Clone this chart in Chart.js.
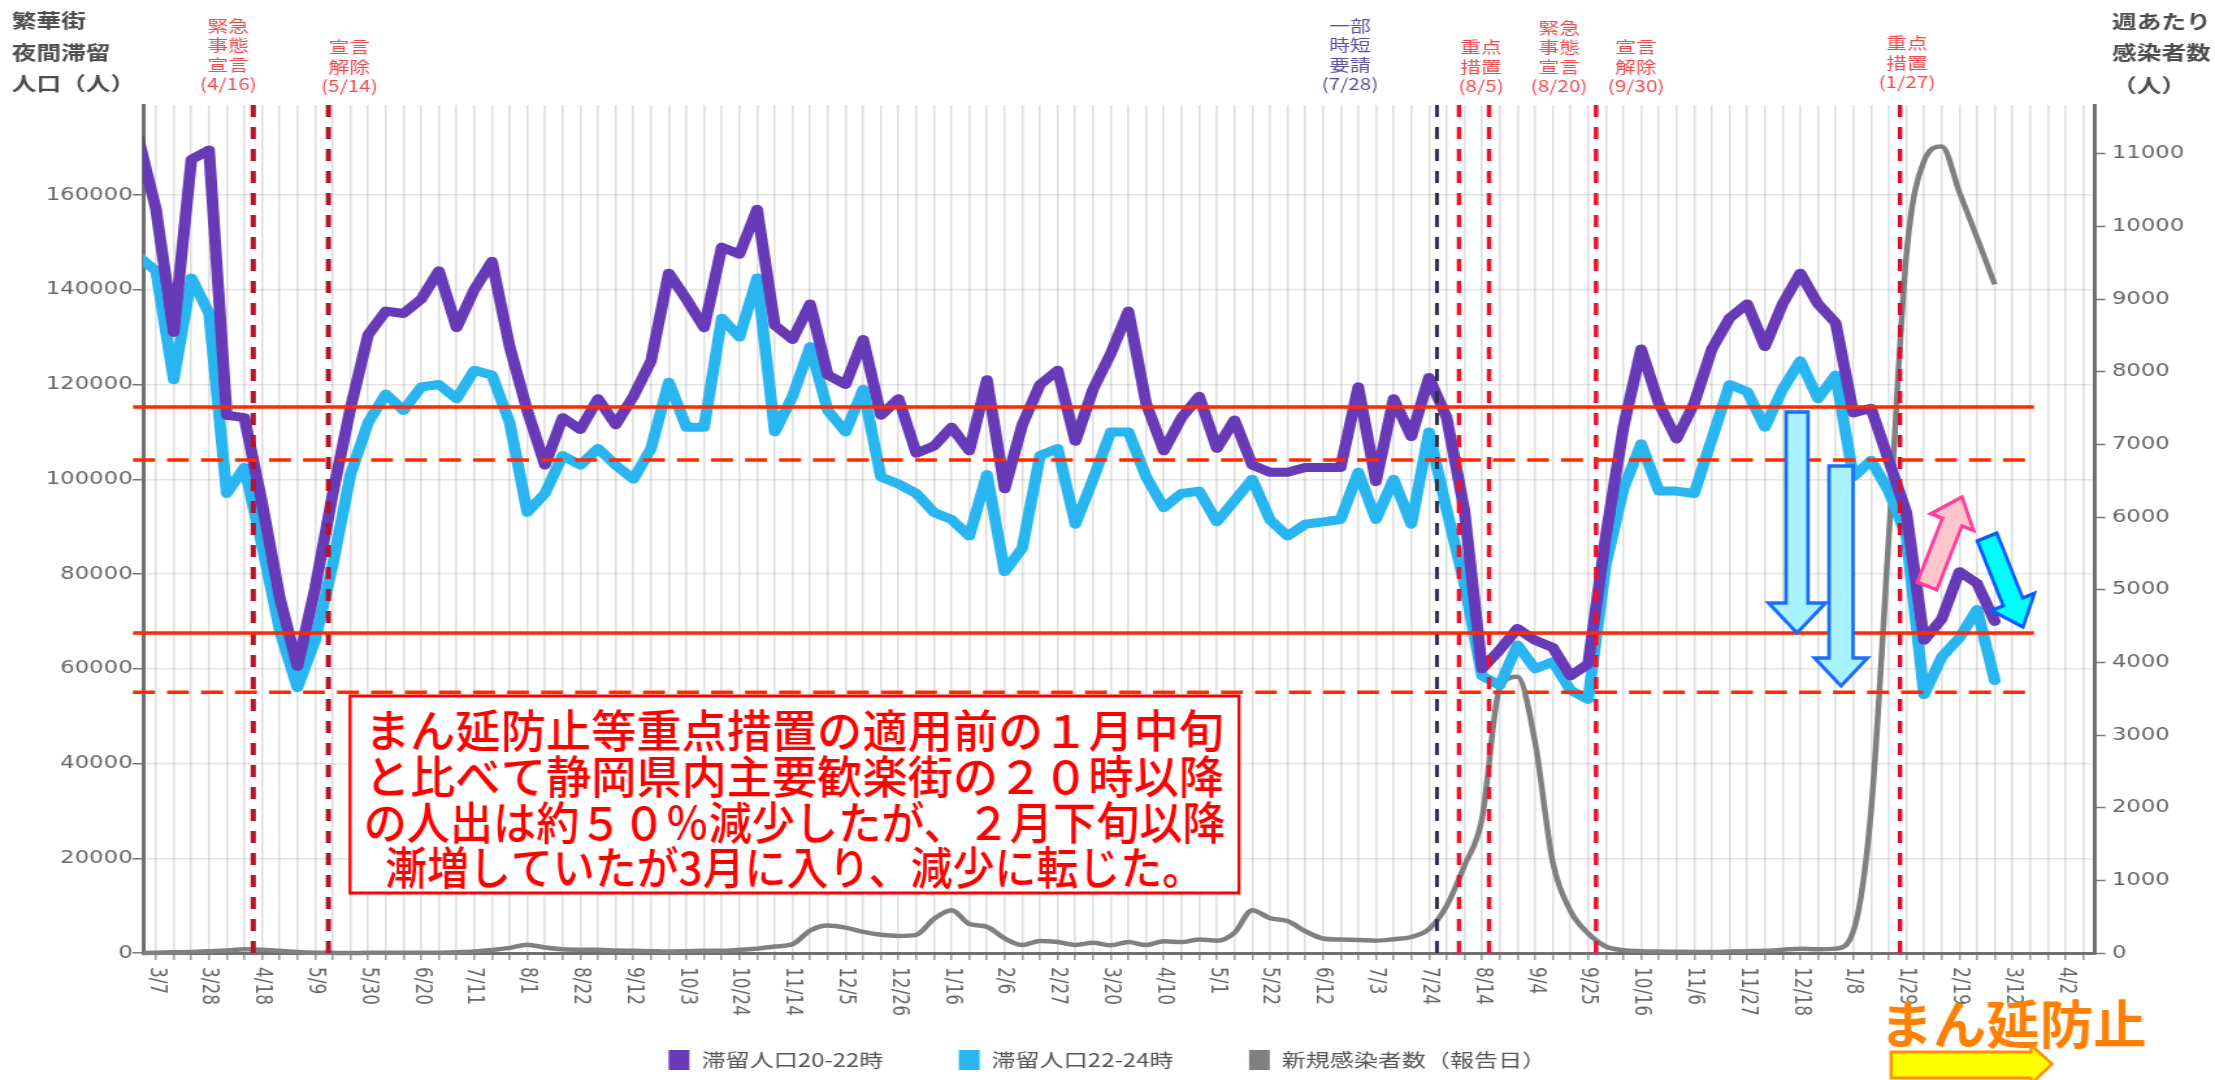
<!DOCTYPE html>
<html><head><meta charset="utf-8">
<script src="https://cdn.jsdelivr.net/npm/chart.js@4.4.1/dist/chart.umd.min.js"></script>
<style>html,body{margin:0;padding:0;background:#fff;overflow:hidden}
#c{display:block}</style>
</head><body>
<canvas id="c" width="1704" height="1080" style="width:2215px;height:1080px"></canvas>
<script>
// ---- data (weekly, first entry = week of 2/29/2020) ----
const weekLabels = ['2/29','3/7','3/14','3/21','3/28','4/4','4/11','4/18','4/25','5/2','5/9','5/16','5/23','5/30','6/6','6/13','6/20','6/27','7/4','7/11','7/18','7/25','8/1','8/8','8/15','8/22','8/29','9/5','9/12','9/19','9/26','10/3','10/10','10/17','10/24','10/31','11/7','11/14','11/21','11/28','12/5','12/12','12/19','12/26','1/2','1/9','1/16','1/23','1/30','2/6','2/13','2/20','2/27','3/6','3/13','3/20','3/27','4/3','4/10','4/17','4/24','5/1','5/8','5/15','5/22','5/29','6/5','6/12','6/19','6/26','7/3','7/10','7/17','7/24','7/31','8/7','8/14','8/21','8/28','9/4','9/11','9/18','9/25','10/2','10/9','10/16','10/23','10/30','11/6','11/13','11/20','11/27','12/4','12/11','12/18','12/25','1/1','1/8','1/15','1/22','1/29','2/5','2/12','2/19','2/26','3/5'];
const tickLabels = ['3/7','3/28','4/18','5/9','5/30','6/20','7/11','8/1','8/22','9/12','10/3','10/24','11/14','12/5','12/26','1/16','2/6','2/27','3/20','4/10','5/1','5/22','6/12','7/3','7/24','8/14','9/4','9/25','10/16','11/6','11/27','12/18','1/8','1/29','2/19','3/12','4/2'];
const leftTicks = [0,20000,40000,60000,80000,100000,120000,140000,160000];
const rightTicks = [0,1000,2000,3000,4000,5000,6000,7000,8000,9000,10000,11000];
const stay2022 = [172000,157000,131000,167500,169500,113500,113000,95000,75000,60500,77000,97000,115000,130500,135500,135000,138000,144000,132000,140000,146000,128000,114500,103000,113000,110500,117000,111500,117500,125000,143500,138000,132000,149000,147500,157000,132500,129500,137000,122000,120000,129500,113500,117000,105500,107000,111000,106000,121000,98000,111500,120000,123000,108000,119000,126500,135500,116000,106000,113000,117500,106500,112500,103000,101500,101500,102500,102500,102500,119500,99500,117000,109000,121500,113000,93500,60000,64000,68500,66000,64500,58500,61000,88000,111000,127500,116000,108500,116000,127500,134000,137000,128000,137000,143500,137000,133000,114000,115000,104000,93000,66000,70500,80500,78000,70000];
const stay2224 = [147000,144000,121000,142500,135000,97000,102500,86000,68000,56000,66000,82000,101000,112000,118000,114500,119500,120000,117000,123000,122000,112000,93000,97000,105000,103000,106500,103000,100000,106500,120500,111000,111000,134000,130000,142500,110000,117500,128000,114500,110000,119000,100500,99000,97000,93000,91500,88000,101000,80500,85500,105000,106500,90500,100000,110000,110000,100500,94000,97000,97500,91000,95500,100000,91500,88000,90500,91000,91500,101500,91500,100000,90500,110000,93500,78000,58500,56500,65000,60000,61500,55500,53500,82000,98000,107500,97500,97500,97000,108500,120000,118500,111000,119000,125000,117000,122000,100500,104000,97500,88000,54500,62500,66500,72500,57500];
const newCases = [0,5,10,15,25,35,50,45,30,15,5,2,0,2,3,2,5,5,10,20,40,70,115,75,50,45,45,35,30,25,20,25,30,30,45,60,90,120,310,380,350,290,250,235,250,470,590,400,360,200,110,165,150,110,140,105,150,110,160,150,185,170,280,590,480,440,300,200,185,180,170,190,220,330,650,1200,1850,3650,3800,2900,1250,580,270,90,40,25,20,18,15,15,20,25,30,45,60,50,60,300,1950,5700,9600,10900,11100,10470,9840,9200];
const seriesNames = ['滞留人口20-22時','滞留人口22-24時','新規感染者数（報告日）'];
const eventWeeks = [5.5, 9.75, 72.45, 73.7, 75.4, 81.45, 98.64];
const eventTexts = [['緊急','事態','宣言','(4/16)'],['宣言','解除','(5/14)'],['一部','時短','要請','(7/28)'],['重点','措置','(8/5)'],['緊急','事態','宣言','(8/20)'],['宣言','解除','(9/30)'],['重点','措置','(1/27)']];
const refLineValues = [115250, 104050, 67550, 55050];
const leftTitle = ['繁華街','夜間滞留','人口（人）'];
const rightTitle = ['週あたり','感染者数','（人）'];
const noteLines = ['まん延防止等重点措置の適用前の１月中旬','と比べて静岡県内主要歓楽街の２０時以降','の人出は約５０％減少したが、２月下旬以降','漸増していたが3月に入り、減少に転じた。'];
const bannerText = 'まん延防止';

// ---- layout / style ----
const W = 1704, SCREEN_W = 2215, S = SCREEN_W / W;
const JP = '"Noto Sans CJK JP","Noto Sans CJK SC",sans-serif';
const eventStyle = [
  {color:'#b5122b', width:4, text:'#ef4a50', dx:-25, last:84},
  {color:'#b5122b', width:4, text:'#ef4a50', dx:21, last:86},
  {color:'#30304a', width:3, text:'#5d50a0', dx:-87, last:84},
  {color:'#e8142e', width:3.5, text:'#ef4a50', dx:22, last:86},
  {color:'#e8142e', width:3.5, text:'#ef4a50', dx:70, last:86},
  {color:'#e8142e', width:3.5, text:'#ef4a50', dx:40, last:86},
  {color:'#d41030', width:3.5, text:'#ef4a50', dx:7, last:82}
];
const refStyle = [{dash:[]},{dash:[22,12]},{dash:[]},{dash:[22,12]}];

function blockArrow(ctx, x0, y0, x1, y1, sw, hw, hl, fill, stroke, lw) {
  const dx = x1 - x0, dy = y1 - y0, L = Math.hypot(dx, dy);
  const ux = dx / L, uy = dy / L, nx = -uy, ny = ux;
  const bx = x1 - ux * hl, by = y1 - uy * hl;
  const p = [[x0 + nx*sw/2, y0 + ny*sw/2],[bx + nx*sw/2, by + ny*sw/2],[bx + nx*hw/2, by + ny*hw/2],[x1, y1],
             [bx - nx*hw/2, by - ny*hw/2],[bx - nx*sw/2, by - ny*sw/2],[x0 - nx*sw/2, y0 - ny*sw/2]];
  ctx.beginPath();
  p.forEach((q, i) => i ? ctx.lineTo(q[0], q[1]) : ctx.moveTo(q[0], q[1]));
  ctx.closePath();
  ctx.fillStyle = fill; ctx.fill();
  ctx.lineWidth = lw; ctx.strokeStyle = stroke; ctx.lineJoin = 'miter'; ctx.stroke();
}

function fitText(ctx, text, cx, cy, target) {
  const w = ctx.measureText(text).width;
  const k = target / w;
  ctx.save(); ctx.translate(cx, cy); ctx.scale(k, 1); ctx.fillText(text, 0, 0); ctx.restore();
}

const overlay = {
  id: 'overlay',
  afterDatasetsDraw(chart) {
    const {ctx, chartArea: ca, scales: {x: xs}} = chart;
    ctx.save();
    eventWeeks.forEach((w, i) => {
      const px = xs.getPixelForValue(w);
      ctx.beginPath();
      ctx.setLineDash([12, 10]);
      ctx.strokeStyle = eventStyle[i].color;
      ctx.lineWidth = eventStyle[i].width;
      ctx.moveTo(px, ca.top); ctx.lineTo(px, ca.bottom);
      ctx.stroke();
    });
    ctx.restore();
  },
  afterDraw(chart) {
    const {ctx, chartArea: ca, scales: {x: xs, y: yl}} = chart;
    // x tick labels, rotated clockwise
    ctx.save();
    ctx.fillStyle = '#666'; ctx.font = '17px "DejaVu Sans"';
    ctx.textAlign = 'left'; ctx.textBaseline = 'middle';
    xs.ticks.forEach(t => {
      if (t.value < 0 || t.value % 3 !== 0) return;
      const lbl = tickLabels[t.value / 3];
      if (!lbl) return;
      ctx.save();
      ctx.translate(xs.getPixelForValue(t.value), ca.bottom + 14);
      ctx.rotate(Math.PI / 2);
      ctx.fillText(lbl, 0, 0);
      ctx.restore();
    });
    ctx.restore();
    // axis titles
    ctx.save();
    ctx.font = 'bold 19px ' + JP; ctx.fillStyle = '#4d4d4d';
    ctx.textAlign = 'left'; ctx.textBaseline = 'middle';
    [21, 53, 84].forEach((y, i) => ctx.fillText(leftTitle[i], 9, y));
    [22, 53, 86].forEach((y, i) => ctx.fillText(rightTitle[i], 2112 / S, y));
    // event texts
    ctx.font = '16px ' + JP; ctx.textAlign = 'center';
    eventTexts.forEach((lines, i) => {
      const st = eventStyle[i];
      const cx = xs.getPixelForValue(eventWeeks[i]) + st.dx / S;
      ctx.fillStyle = st.text;
      lines.forEach((s, j) => ctx.fillText(s, cx, st.last - (lines.length - 1 - j) * 19.5));
    });
    ctx.restore();

    // ---- overlays in screen coordinates ----
    ctx.save();
    ctx.scale(1 / S, 1);
    const xl = 133, xr = 2034;
    refLineValues.forEach((v, i) => {
      const y = yl.getPixelForValue(v);
      ctx.beginPath(); ctx.setLineDash(refStyle[i].dash);
      ctx.strokeStyle = '#ff2a00'; ctx.lineWidth = 3.5;
      ctx.moveTo(xl, y); ctx.lineTo(xr, y); ctx.stroke();
    });
    ctx.setLineDash([]);
    // text box
    ctx.fillStyle = '#fff'; ctx.fillRect(350, 696, 889, 197);
    ctx.strokeStyle = '#ff0000'; ctx.lineWidth = 3; ctx.strokeRect(350, 696, 889, 197);
    ctx.fillStyle = '#ff0000'; ctx.font = '500 45px ' + JP;
    ctx.textAlign = 'center'; ctx.textBaseline = 'middle';
    const noteY = [731, 777, 823, 868], noteW = [859, 859, 862, 819];
    noteLines.forEach((s, i) => fitText(ctx, s, 794.5, noteY[i], noteW[i]));
    // arrows
    blockArrow(ctx, 1797, 412, 1797, 633, 22, 57, 30, '#a8f2ff', '#1a6dff', 3.5);
    blockArrow(ctx, 1841, 466, 1841, 686, 24, 53, 28, '#a8f2ff', '#1a6dff', 3.5);
    blockArrow(ctx, 1927, 586, 1962, 497, 21, 46, 27, '#ffc4cc', '#ff3d9a', 3.5);
    blockArrow(ctx, 1987, 537, 2023, 627, 21, 46, 27, '#00ffff', '#0a5cff', 3.5);
    // banner
    ctx.font = 'bold 52px ' + JP; ctx.fillStyle = '#ff8000'; ctx.textAlign = 'center';
    fitText(ctx, bannerText, 2013, 1024, 267);
    ctx.beginPath();
    ctx.moveTo(1891, 1052); ctx.lineTo(2031, 1052); ctx.lineTo(2031, 1045); ctx.lineTo(2052, 1064);
    ctx.lineTo(2031, 1084); ctx.lineTo(2031, 1078); ctx.lineTo(1891, 1078); ctx.closePath();
    ctx.fillStyle = '#ffff00'; ctx.fill(); ctx.strokeStyle = '#ff9000'; ctx.lineWidth = 3; ctx.stroke();
    ctx.restore();
  }
};

const pts = arr => arr.map((v, i) => ({x: i - 1, y: v}));
const tickFont = {family: 'DejaVu Sans', size: 17.5};
const clipBox = {left: 0, top: 5, right: 5, bottom: 5};

new Chart(document.getElementById('c'), {
  type: 'line',
  data: {
    datasets: [
      {label: seriesNames[0], data: pts(stay2022), yAxisID: 'y', borderColor: '#673ab7', backgroundColor: '#673ab7',
       borderWidth: 9, pointRadius: 0, tension: 0, borderJoinStyle: 'round', borderCapStyle: 'round', clip: clipBox},
      {label: seriesNames[1], data: pts(stay2224), yAxisID: 'y', borderColor: '#29b6f0', backgroundColor: '#29b6f0',
       borderWidth: 9, pointRadius: 0, tension: 0, borderJoinStyle: 'round', borderCapStyle: 'round', clip: clipBox},
      {label: seriesNames[2], data: pts(newCases), yAxisID: 'y2', borderColor: '#808080', backgroundColor: '#808080',
       borderWidth: 4.5, pointRadius: 0, cubicInterpolationMode: 'monotone', borderJoinStyle: 'round', clip: clipBox}
    ]
  },
  options: {
    responsive: false, animation: false, devicePixelRatio: 1,
    layout: {padding: {top: 105, left: 0, right: 0, bottom: 0}},
    plugins: {
      tooltip: {enabled: false},
      legend: {
        position: 'bottom',
        labels: {
          font: {family: JP, size: 18.5}, color: '#555', boxWidth: 16, boxHeight: 20, padding: 58,
          generateLabels: c => Chart.defaults.plugins.legend.labels.generateLabels(c).map(l => Object.assign(l, {lineWidth: 0, fillStyle: l.strokeStyle}))
        }
      }
    },
    scales: {
      x: {
        type: 'linear', min: -0.735, max: 109.67,
        ticks: {display: false, stepSize: 1, includeBounds: false},
        grid: {color: 'rgba(0,0,0,0.13)', lineWidth: 1.6, tickLength: 7, tickColor: '#999', tickWidth: 1.5},
        border: {display: true, color: '#707070', width: 3},
        afterFit: s => { s.height = 39; }
      },
      y: {
        position: 'left', min: 0, max: 179000,
        afterBuildTicks: s => { s.ticks = leftTicks.map(v => ({value: v})); },
        ticks: {color: '#666', font: tickFont, padding: 0, callback: v => String(v)},
        grid: {color: 'rgba(0,0,0,0.1)', lineWidth: 1.5, tickLength: 8, tickColor: '#777', tickWidth: 1.5},
        border: {color: '#707070', width: 3},
        afterFit: s => { s.width = 143 / S; }
      },
      y2: {
        position: 'right', min: 0, max: 11670,
        afterBuildTicks: s => { s.ticks = rightTicks.map(v => ({value: v})); },
        ticks: {color: '#666', font: tickFont, padding: 5, callback: v => String(v)},
        grid: {drawOnChartArea: false, tickLength: 8, tickColor: '#777', tickWidth: 1.5},
        border: {color: '#707070', width: 3},
        afterFit: s => { s.width = W - 2095 / S; }
      }
    }
  },
  plugins: [overlay]
});
</script>
</body></html>
